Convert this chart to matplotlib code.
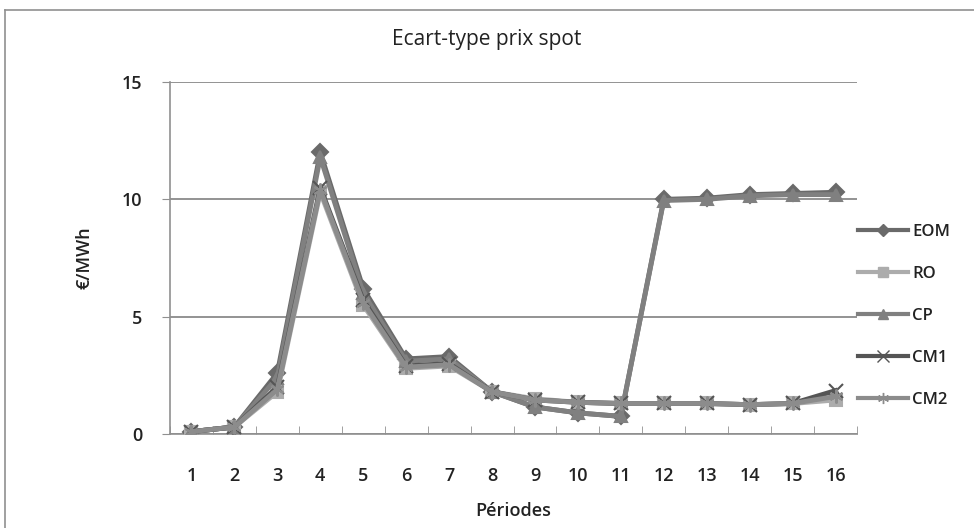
import matplotlib
matplotlib.use('Agg')
import matplotlib.pyplot as plt
from matplotlib.lines import Line2D

periods = list(range(1, 17))
eom = [0.1, 0.3, 2.6, 12.0, 6.2, 3.2, 3.3, 1.8, 1.15, 0.9, 0.75, 10.0, 10.05, 10.2, 10.25, 10.3]
ro  = [0.1, 0.3, 1.8, 10.3, 5.5, 2.8, 2.9, 1.8, 1.5, 1.35, 1.3, 1.3, 1.3, 1.25, 1.3, 1.45]
cp  = [0.1, 0.3, 2.4, 11.8, 6.0, 3.1, 3.2, 1.8, 1.15, 0.9, 0.75, 9.95, 10.0, 10.15, 10.2, 10.2]
cm1 = [0.1, 0.3, 2.0, 10.5, 5.7, 2.9, 3.0, 1.8, 1.45, 1.35, 1.3, 1.3, 1.3, 1.25, 1.3, 1.85]
cm2 = [0.1, 0.3, 1.9, 10.4, 5.6, 2.85, 2.95, 1.8, 1.45, 1.35, 1.3, 1.3, 1.3, 1.25, 1.3, 1.6]
names = ['EOM', 'RO', 'CP', 'CM1', 'CM2']

FONT = ['Open Sans', 'DejaVu Sans']

fig = plt.figure(figsize=(9.74, 5.28), dpi=100)
fig.patch.set_facecolor('white')
ax = fig.add_axes([170/974, 1-434/528, 687/974, 352/528])

# series styles: (data, color, marker, size)
styles = [
    (eom, '#6a6a6a', 'D', 8),
    (ro,  '#acacac', 's', 9),
    (cp,  '#808080', '^', 9),
    (cm1, '#555555', 'x', 10),
    (cm2, '#8c8c8c', (6, 2, 0), 10),
]
handles = []
for (vals, col, mk, ms), nm in zip(styles, names):
    ax.plot(periods, vals, color=col, lw=3.5, marker=mk, ms=ms,
            markeredgecolor=col, markerfacecolor=col, mew=1.5, zorder=3)
    handles.append(Line2D([], [], color=col, lw=3, marker=mk, ms=ms*0.8,
                          markeredgecolor=col, markerfacecolor=col, mew=1.0))

ax.set_xlim(0.5, 16.5)
ax.set_ylim(0, 15)
ax.set_yticks([0, 5, 10, 15])
ax.set_xticks(periods)
ax.yaxis.grid(True, color='#808080', lw=1.2)
ax.set_axisbelow(True)
for s in ['top', 'right']:
    ax.spines[s].set_visible(False)
for s in ['left', 'bottom']:
    ax.spines[s].set_color('#909090')
    ax.spines[s].set_linewidth(1.2)

# minor ticks at category boundaries on x
ax.set_xticks([p + 0.5 for p in range(0, 17)], minor=True)
ax.tick_params(axis='x', which='major', length=0, pad=24, labelsize=13)
ax.tick_params(axis='x', which='minor', length=6, color='#909090', direction='in')
ax.tick_params(axis='y', length=6, color='#909090', labelsize=13, pad=14)
for lab in ax.get_xticklabels() + ax.get_yticklabels():
    lab.set_family(FONT)
    lab.set_fontweight('semibold')
    lab.set_color('#222222')

ax.set_xlabel('Périodes', fontsize=13, family=FONT, fontweight='semibold',
              color='#222222', labelpad=12)
ax.set_ylabel('€/MWh', fontsize=13, family=FONT, fontweight='semibold',
              color='#222222', labelpad=20)

fig.text(0.5, 1 - 40/528, 'Ecart-type prix spot', ha='center', va='center',
         fontsize=15, family=FONT, color='#222222')

leg = fig.legend(handles, names, loc='center left',
                 bbox_to_anchor=(848/974, 1 - 316/528), frameon=False,
                 handlelength=3.0, labelspacing=1.55, handletextpad=0.25,
                 borderaxespad=0.2,
                 prop={'family': FONT, 'size': 12, 'weight': 'semibold'})
for t in leg.get_texts():
    t.set_color('#222222')

# outer chart frame
fig.add_artist(Line2D([5/974, 5/974], [0, 1 - 10/528], color='#909090', lw=1.2))
fig.add_artist(Line2D([5/974, 1], [1 - 10/528, 1 - 10/528], color='#909090', lw=1.2))

fig.savefig('out.png', dpi=100, facecolor='white')
